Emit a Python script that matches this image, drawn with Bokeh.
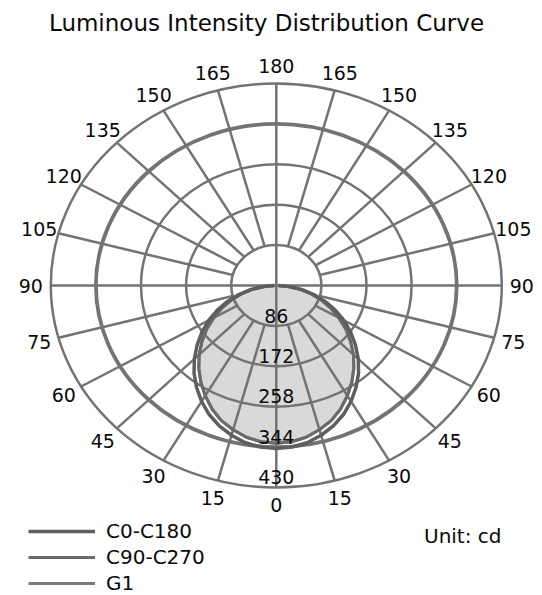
import numpy as np
from bokeh.plotting import figure
from bokeh.models import Legend, LegendItem, Label
from bokeh.core.properties import value
from bokeh.embed import file_html
from bokeh.resources import INLINE

# ---------------- data ----------------
title_text = "Luminous Intensity Distribution Curve"
unit_text = "Unit: cd"
ring_values = [86, 172, 258, 344, 430]
angle_ticks = [0, 15, 30, 45, 60, 75, 90, 105, 120, 135, 150, 165, 180]
curve_angles = [0, 5, 10, 15, 20, 25, 30, 35, 40, 45, 50, 55, 60, 65, 70, 75, 80, 85, 90]
c0_c180 = [347, 345, 340, 330, 318, 303, 285, 265, 244, 221, 197, 173, 149, 124, 99, 74, 50, 25, 4]
c90_c270 = [336, 334, 328, 318, 306, 290, 271, 251, 230, 208, 185, 162, 138, 115, 92, 69, 46, 23, 3]
g1 = [336, 334, 328, 318, 306, 290, 271, 251, 230, 208, 185, 162, 138, 115, 92, 69, 46, 23, 3]
series_names = ["C0-C180", "C90-C270", "G1"]

# ---------------- layout ----------------
W, H = 542, 595
cx_px, cy_px = 275.8, 285.0
sx = 225.5 / 430.0
sy = 202.0 / 430.0
x_range = (-cx_px / sx, (W - cx_px) / sx)
y_range = (-(H - cy_px) / sy, cy_px / sy)

FONT = "DejaVu Sans"
GRID = "#737373"
TXT = "#0a0a0a"

p = figure(width=W, height=H, x_range=x_range, y_range=y_range,
           output_backend="svg", toolbar_location=None, min_border=0,
           x_axis_type=None, y_axis_type=None, outline_line_color=None,
           background_fill_color="white", border_fill_color="white")
p.grid.visible = False


def polar_curve(angles, vals):
    a = np.radians(np.array(angles, dtype=float))
    v = np.array(vals, dtype=float)
    al = -a[::-1]
    vl = v[::-1]
    aa = np.concatenate([al, a[1:]])
    vv = np.concatenate([vl, v[1:]])
    return vv * np.sin(aa), -vv * np.cos(aa)


# fill of G1
gx, gy = polar_curve(curve_angles, g1)
p.patch(gx, gy, fill_color="#d9d9d9", line_color=None)

# grid rings
rv = np.array(ring_values, dtype=float)
p.ellipse(x=0, y=0, width=2 * rv, height=2 * rv, fill_color=None,
          line_color=GRID, line_width=[2.5, 2.5, 2.5, 3.8, 2.5])

# radial spokes
spokes = np.radians(np.array([t for t in angle_ticks if t not in (0, 90, 180)], dtype=float))
spokes = np.concatenate([spokes, -spokes])
r0, r1 = ring_values[0], ring_values[-1]
p.segment(x0=r0 * np.sin(spokes), y0=-r0 * np.cos(spokes),
          x1=r1 * np.sin(spokes), y1=-r1 * np.cos(spokes),
          line_color=GRID, line_width=2.5)
p.segment(x0=[0, -r1], y0=[-r1, 0], x1=[0, r1], y1=[r1, 0],
          line_color=GRID, line_width=2.5)

# curves
cx1, cy1 = polar_curve(curve_angles, c0_c180)
cx2, cy2 = polar_curve(curve_angles, c90_c270)
r_g1 = p.line(gx, gy, line_color="#7a7a7a", line_width=3)
r_c90 = p.line(cx2, cy2, line_color="#6a6a6a", line_width=3)
r_c0 = p.line(cx1, cy1, line_color="#5e5e5e", line_width=3.5)

# angle labels
R = 468.0
lx, ly, lt = [], [], []
for t in angle_ticks:
    a = np.radians(t)
    if t in (0, 180):
        lx.append(0.0); ly.append(-R * np.cos(a)); lt.append(str(t))
    else:
        for s in (-1, 1):
            lx.append(s * R * np.sin(a)); ly.append(-R * np.cos(a)); lt.append(str(t))
p.text(x=lx, y=ly, text=lt, text_align="center", text_baseline="middle",
       text_font=value(FONT), text_font_size="19px", text_color=TXT)

# radial value labels
p.text(x=[0] * len(ring_values), y=[-(v - 22) for v in ring_values],
       text=[str(v) for v in ring_values], text_align="center", text_baseline="middle",
       text_font=value(FONT), text_font_size="19px", text_color=TXT)

# title
p.add_layout(Label(x=266, y=H - 22, x_units="screen", y_units="screen", text=title_text,
                   text_align="center", text_baseline="middle", text_font=FONT,
                   text_font_size="23px", text_color=TXT))
p.add_layout(Label(x=501, y=H - 535, x_units="screen", y_units="screen", text=unit_text,
                   text_align="right", text_baseline="middle", text_font=FONT,
                   text_font_size="20px", text_color=TXT))

legend = Legend(items=[LegendItem(label=series_names[0], renderers=[r_c0]),
                       LegendItem(label=series_names[1], renderers=[r_c90]),
                       LegendItem(label=series_names[2], renderers=[r_g1])],
                location=(28, 0), orientation="vertical", glyph_width=67, glyph_height=20,
                label_height=20, spacing=2, padding=0, margin=0, label_standoff=11,
                background_fill_alpha=0, border_line_color=None,
                label_text_font=FONT, label_text_font_size="20px",
                label_text_color=TXT)
p.add_layout(legend)

open("out.html", "w").write(file_html(p, INLINE))
